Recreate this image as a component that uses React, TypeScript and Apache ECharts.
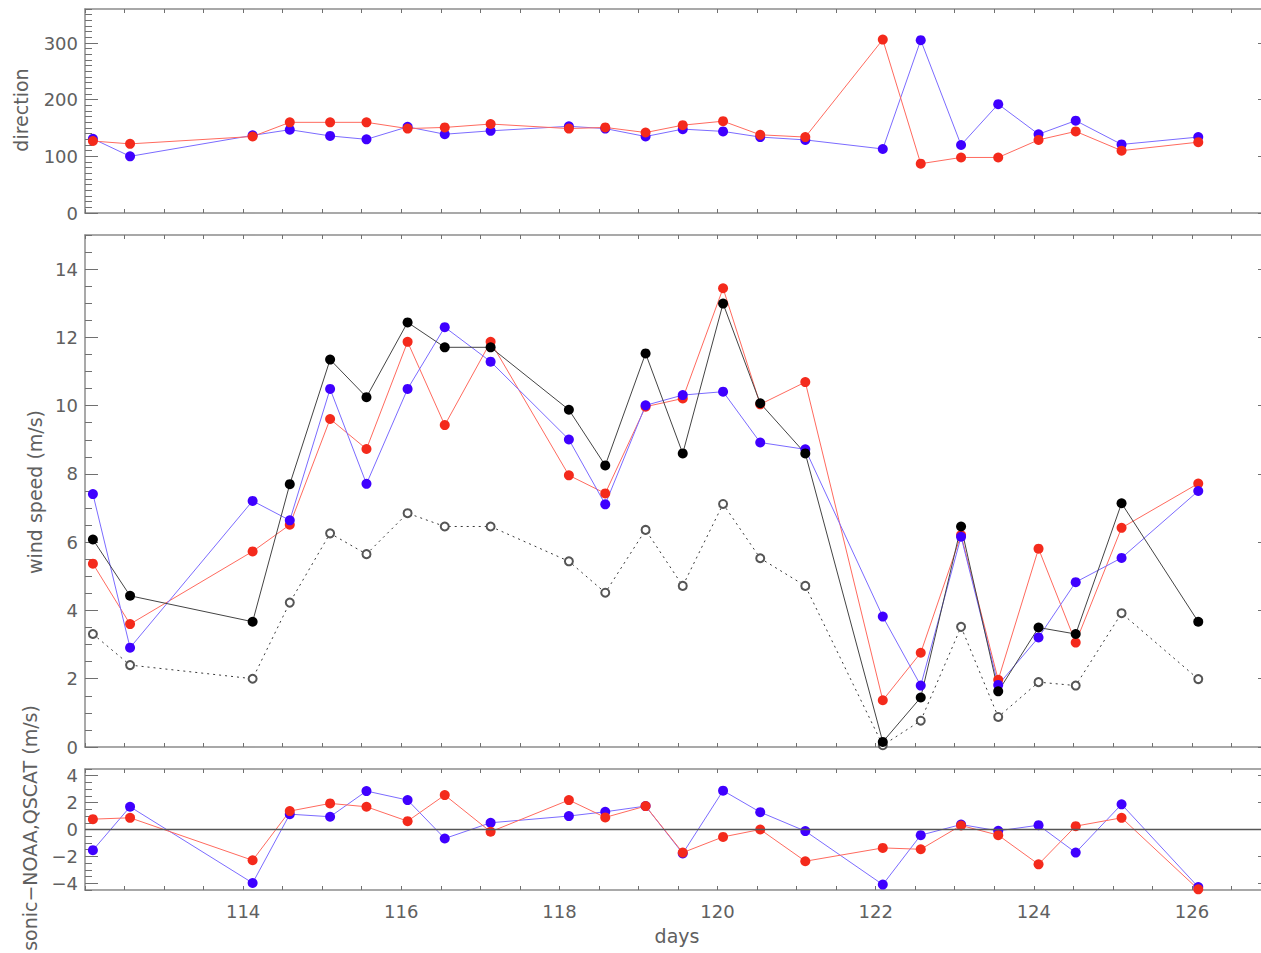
import React, { useEffect, useRef } from "react";
import * as echarts from "echarts";

// ---- data ----
const DAYS = [112.10, 112.57, 114.12, 114.59, 115.10, 115.56, 116.08, 116.55, 117.13, 118.12, 118.58, 119.09, 119.56, 120.07, 120.54, 121.11, 122.09, 122.57, 123.08, 123.55, 124.06, 124.53, 125.11, 126.08];

const DIR_BLUE = [131, 100, 137, 147, 136, 130, 152, 139, 145, 153, 149, 135, 148, 144, 134, 129, 113, 305, 120, 192, 139, 163, 121, 134];
const DIR_RED = [127, 122, 135, 160, 160, 160, 149, 151, 157, 149, 151, 142, 155, 162, 138, 134, 306, 87, 98, 98, 129, 144, 110, 125];

const SPD_BLACK = [6.08, 4.43, 3.67, 7.70, 11.35, 10.25, 12.44, 11.71, 11.71, 9.88, 8.25, 11.53, 8.60, 12.99, 10.07, 8.60, 0.15, 1.45, 6.46, 1.63, 3.50, 3.31, 7.14, 3.67];
const SPD_BLUE = [7.41, 2.91, 7.21, 6.64, 10.49, 7.71, 10.49, 12.30, 11.29, 9.01, 7.11, 10.01, 10.31, 10.41, 8.92, 8.72, 3.82, 1.80, 6.16, 1.82, 3.21, 4.83, 5.54, 7.50];
const SPD_RED = [5.37, 3.60, 5.73, 6.51, 9.61, 8.73, 11.87, 9.43, 11.87, 7.96, 7.43, 9.97, 10.21, 13.44, 10.04, 10.69, 1.37, 2.76, 6.21, 1.97, 5.81, 3.06, 6.42, 7.72];
const SPD_DOT = [3.31, 2.40, 2.00, 4.23, 6.26, 5.65, 6.85, 6.46, 6.46, 5.44, 4.52, 6.36, 4.72, 7.12, 5.53, 4.72, 0.05, 0.77, 3.52, 0.88, 1.90, 1.80, 3.92, 1.99];

const DIFF_BLUE = [-1.54, 1.69, -3.98, 1.14, 0.95, 2.86, 2.19, -0.67, 0.50, 1.00, 1.32, 1.74, -1.78, 2.89, 1.29, -0.12, -4.10, -0.42, 0.37, -0.10, 0.32, -1.72, 1.87, -4.28];
const DIFF_RED = [0.77, 0.87, -2.29, 1.37, 1.94, 1.69, 0.62, 2.56, -0.17, 2.19, 0.90, 1.74, -1.72, -0.55, 0.00, -2.36, -1.37, -1.47, 0.30, -0.42, -2.59, 0.25, 0.87, -4.45];

// tick labels
const DAY_TICKS = [114, 116, 118, 120, 122, 124, 126];
const DIR_TICKS = [0, 100, 200, 300];
const SPD_TICKS = [0, 2, 4, 6, 8, 10, 12, 14];
const DIFF_TICKS = [-4, -2, 0, 2, 4];

// ---- styles ----
const FONT = "DejaVu Sans";
const TXT = "#606060";
const FRAME = "#8c8c8c";
const TICK = "#707070";
const BLUE = "#3f00ff";
const BLUE_LINE = "#7b6bff";
const RED = "#f42a1c";
const RED_LINE = "#ff6a5e";
const BLACK = "#000000";
const BLACK_LINE = "#444444";

function range(a: number, b: number, step: number): number[] {
  const out: number[] = [];
  for (let v = a; v <= b + 1e-9; v += step) out.push(Math.round(v * 1000) / 1000);
  return out;
}

const X_MIN = 112;
const X_MAX = 127;
const X_TICKS = range(X_MIN, X_MAX, 0.5);

const PANELS = [
  { top: 9, height: 204, min: 0, max: 360, major: DIR_TICKS, minor: range(0, 360, 10) },
  { top: 235, height: 512, min: 0, max: 15, major: SPD_TICKS, minor: range(0, 15, 0.5) },
  { top: 769, height: 121, min: -4.5, max: 4.5, major: DIFF_TICKS, minor: range(-4.5, 4.5, 0.5) },
];

function pts(vals: number[]) {
  return DAYS.map((d, i) => [d, vals[i]]);
}

const fmtMinus = (v: number) => String(v).replace("-", "\u2212");

function buildOption() {
  const grid = PANELS.map((p) => ({ left: 85, right: 1, top: p.top, height: p.height }));
  const xAxis: any[] = [];
  const yAxis: any[] = [];
  PANELS.forEach((p, gi) => {
    const last = gi === PANELS.length - 1;
    ["bottom", "top"].forEach((pos) => {
      xAxis.push({
        type: "value",
        gridIndex: gi,
        position: pos,
        min: X_MIN,
        max: X_MAX,
        axisLine: { show: true, onZero: false, lineStyle: { color: FRAME, width: 1.5 } },
        axisTick: { show: true, inside: true, length: 4, customValues: X_TICKS, lineStyle: { color: TICK } },
        axisLabel: {
          show: last && pos === "bottom",
          customValues: DAY_TICKS,
          margin: 12,
          fontSize: 18,
          fontFamily: FONT,
          color: TXT,
        },
        splitLine: { show: false },
      });
    });
    yAxis.push({
      type: "value",
      gridIndex: gi,
      position: "left",
      min: p.min,
      max: p.max,
      axisLine: { show: true, onZero: false, lineStyle: { color: FRAME, width: 1.5 } },
      axisTick: { show: true, inside: true, length: 13, customValues: p.major, lineStyle: { color: TICK } },
      axisLabel: {
        show: true,
        customValues: p.major,
        margin: 7,
        fontSize: 18,
        fontFamily: FONT,
        color: TXT,
        formatter: fmtMinus,
      },
      splitLine: { show: false },
    });
    yAxis.push({
      type: "value",
      gridIndex: gi,
      position: "left",
      min: p.min,
      max: p.max,
      axisLine: { show: false, onZero: false },
      axisTick: { show: true, inside: true, length: 7, customValues: p.minor, lineStyle: { color: TICK } },
      axisLabel: { show: false },
      splitLine: { show: false },
    });
    yAxis.push({
      type: "value",
      gridIndex: gi,
      position: "right",
      min: p.min,
      max: p.max,
      axisLine: { show: true, onZero: false, lineStyle: { color: FRAME, width: 1.5 } },
      axisTick: { show: true, inside: true, length: 13, customValues: p.major, lineStyle: { color: TICK } },
      axisLabel: { show: false },
      splitLine: { show: false },
    });
  });

  const line = (gi: number, vals: number[], color: string, lineColor: string, extra: any = {}) => ({
    type: "line",
    xAxisIndex: gi * 2,
    yAxisIndex: gi * 3,
    data: pts(vals),
    symbol: "circle",
    symbolSize: 10,
    showSymbol: true,
    itemStyle: { color },
    lineStyle: { color: lineColor, width: 1 },
    emphasis: { disabled: true },
    silent: true,
    ...extra,
  });

  const series: any[] = [
    line(0, DIR_BLUE, BLUE, BLUE_LINE),
    line(0, DIR_RED, RED, RED_LINE),
    line(1, SPD_DOT, "#555555", "#3a3a3a", {
      symbol: "emptyCircle",
      symbolSize: 8,
      itemStyle: { color: "#555555", borderColor: "#555555", borderWidth: 1 },
      lineStyle: { color: "#3a3a3a", width: 1, type: [2, 4] },
    }),
    line(1, SPD_RED, RED, RED_LINE),
    line(1, SPD_BLUE, BLUE, BLUE_LINE),
    line(1, SPD_BLACK, BLACK, BLACK_LINE),
    line(2, DIFF_BLUE, BLUE, BLUE_LINE, {
      markLine: {
        silent: true,
        symbol: "none",
        label: { show: false },
        lineStyle: { color: "#555555", width: 1.3, type: "solid" },
        data: [{ yAxis: 0 }],
      },
    }),
    line(2, DIFF_RED, RED, RED_LINE),
  ];

  const txt = (text: string, x: number, y: number, rot: number) => ({
    type: "text",
    x,
    y,
    rotation: rot,
    silent: true,
    style: {
      text,
      fontSize: 19,
      fontFamily: FONT,
      fill: TXT,
      textAlign: "center",
      textVerticalAlign: "middle",
      align: "center",
      verticalAlign: "middle",
    },
  });

  return {
    animation: false,
    backgroundColor: "#ffffff",
    grid,
    xAxis,
    yAxis,
    series,
    graphic: [
      txt("direction", 21, 110, Math.PI / 2),
      txt("wind speed (m/s)", 35, 492, Math.PI / 2),
      txt("sonic\u2212NOAA,QSCAT (m/s)", 30, 828, Math.PI / 2),
      txt("days", 677, 936, 0),
    ],
  };
}

export default function App() {
  const ref = useRef<HTMLDivElement>(null);
  useEffect(() => {
    if (!ref.current) return;
    const chart = echarts.init(ref.current, null, { renderer: "svg" });
    chart.setOption(buildOption() as any);
    return () => chart.dispose();
  }, []);
  return (
    <div
      ref={ref}
      style={{ position: "fixed", left: 0, top: 0, width: 1272, height: 953, background: "#fff" }}
    />
  );
}
